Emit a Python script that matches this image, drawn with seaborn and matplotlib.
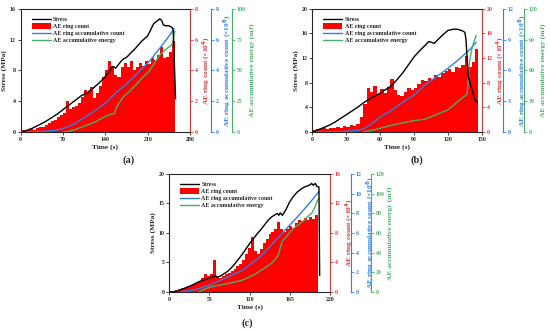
import numpy as np
import matplotlib
matplotlib.use("Agg")
import matplotlib.pyplot as plt
from matplotlib.lines import Line2D
from matplotlib.patches import Patch
import seaborn as sns

# ---------------- panel (a) ----------------
a_stress_t = [0, 5, 10, 20, 30, 40, 50, 60, 70, 80, 90, 95, 100, 105, 110, 115, 120, 130, 140, 145,
              150, 153, 157, 160, 165, 170, 175, 180, 190, 200, 210, 215, 220, 225, 230, 233, 236,
              240, 245, 250, 252, 254, 256]
a_stress = [0, 0.05, 0.2, 0.5, 0.9, 1.3, 1.8, 2.3, 2.9, 3.5, 4.1, 4.4, 4.7, 4.9, 5.1, 5.4, 5.7, 6.4,
            7.2, 7.7, 8.3, 8.5, 8.3, 8.6, 9.1, 9.5, 9.7, 10.1, 10.9, 11.8, 12.5, 13.3, 14.1, 14.4,
            14.7, 14.5, 13.9, 13.8, 13.8, 13.6, 13.3, 9.0, 4.3]
a_ring_step = 5
a_ring = [0.1, 0.15, 0.1, 0.2, 0.15, 0.25, 0.3, 0.35, 0.45, 0.55, 0.7, 0.8, 0.95, 1.1, 1.2, 2.0,
          1.5, 1.6, 1.7, 1.9, 2.3, 2.7, 2.6, 2.9, 2.2, 2.5, 3.0, 3.6, 4.0, 4.6, 4.3, 3.7, 3.6, 4.2,
          4.5, 4.2, 4.6, 4.0, 4.2, 4.5, 4.3, 4.6, 4.4, 4.8, 4.7, 5.0, 5.5, 4.8, 4.9, 5.2, 5.9]
a_count_t = [0, 20, 40, 60, 70, 80, 90, 100, 110, 120, 130, 140, 150, 160, 170, 180, 190, 200, 210,
             220, 230, 240, 250, 254]
a_count = [0, 0.01, 0.04, 0.12, 0.22, 0.37, 0.55, 0.8, 1.05, 1.3, 1.58, 1.87, 2.25, 2.65, 2.95, 3.3,
           3.7, 4.1, 4.47, 4.95, 5.45, 5.95, 6.5, 6.75]
a_energy_t = [70, 80, 90, 100, 110, 120, 125, 130, 140, 150, 155, 158, 162, 170, 180, 190, 200, 210,
              220, 230, 240, 245, 248, 250, 252, 254, 255]
a_energy = [0, 0.5, 2, 3.8, 5.5, 7.6, 8.5, 10, 12.5, 14.5, 15, 19.5, 23, 28.7, 33, 38, 43.5, 48,
            55, 62.6, 67, 69, 70, 71, 73, 80, 82]

# ---------------- panel (b) ----------------
b_stress_t = [0, 5, 10, 15, 20, 25, 30, 35, 40, 45, 50, 55, 60, 65, 70, 75, 80, 85, 90, 95, 100,
              103, 105, 108, 110, 115, 120, 125, 128, 132, 135, 136, 137, 138, 140, 142, 144, 146]
b_stress = [0, 0.35, 0.7, 1.1, 1.6, 2.2, 2.8, 3.4, 4.0, 4.7, 5.3, 5.8, 6.3, 6.9, 7.5, 8.5, 9.6, 10.9,
            12.2, 13.2, 14.1, 14.7, 14.6, 14.4, 14.8, 15.7, 16.5, 16.7, 16.7, 16.5, 16.2, 15.0,
            12.0, 9.0, 7.8, 6.5, 5.2, 4.8]
b_ring_step = 3
b_ring = [0.3, 0.5, 0.4, 0.6, 0.5, 0.7, 0.6, 0.8, 0.7, 0.9, 0.8, 1.1, 1.0, 1.3, 2.5, 4.5, 7.2, 6.5,
          7.4, 6.2, 7.0, 6.4, 7.3, 8.6, 6.8, 6.0, 5.8, 6.5, 7.2, 6.8, 7.2, 7.8, 8.4, 8.2, 8.8, 8.6,
          9.2, 9.0, 9.5, 9.9, 10.2, 9.8, 10.6, 10.4, 10.9, 12.4, 10.6, 11.4, 13.4]
b_count_t = [0, 20, 30, 40, 45, 50, 55, 60, 70, 80, 90, 100, 110, 120, 130, 140, 145]
b_count = [0, 0.02, 0.06, 0.15, 0.3, 0.6, 1.0, 1.45, 2.1, 2.9, 3.6, 4.6, 5.4, 6.2, 7.1, 8.1, 8.75]
b_energy_t = [45, 50, 55, 60, 65, 70, 75, 80, 90, 100, 110, 120, 125, 130, 135, 137, 138, 139, 141,
              143, 145]
b_energy = [0, 1, 2.2, 3.6, 5, 6.5, 7.8, 8.8, 11, 12.5, 17, 21.5, 26, 31, 35, 37, 50, 68, 80, 88, 94]

# ---------------- panel (c) ----------------
c_stress_t = [0, 5, 10, 15, 20, 25, 30, 35, 40, 45, 50, 55, 60, 63, 66, 70, 75, 80, 85, 90, 95, 100,
              105, 110, 115, 120, 125, 130, 135, 140, 145, 148, 150, 152, 155, 160, 165, 170, 175,
              180, 185, 190, 193, 195, 197, 200, 202, 205, 206]
c_stress = [0, 0.02, 0.1, 0.3, 0.6, 0.85, 1.1, 1.4, 1.7, 1.95, 2.15, 2.35, 2.6, 2.75, 2.55, 2.7,
            3.1, 3.5, 4.1, 4.8, 5.6, 6.4, 7.3, 8.2, 9.0, 9.8, 10.5, 11.3, 12.1, 12.7, 13.1, 13.3,
            13.0, 13.4, 13.0, 14.0, 15.3, 16.2, 16.9, 17.4, 17.8, 18.0, 18.2, 18.4, 18.1, 18.4,
            17.9, 17.8, 2.8]
c_ring_step = 4
c_ring = [0.1, 0.2, 0.3, 0.4, 0.5, 0.6, 0.8, 0.9, 1.1, 1.2, 1.5, 1.9, 2.5, 2.1, 2.4, 4.3, 2.2, 1.9,
          2.1, 2.4, 2.6, 2.9, 3.1, 3.5, 3.8, 4.3, 5.2, 6.0, 7.4, 5.6, 5.2, 5.8, 6.6, 7.2, 7.8, 8.2,
          8.6, 9.5, 8.6, 8.2, 8.5, 8.9, 8.7, 9.4, 9.7, 9.6, 10.0, 9.8, 10.1, 9.9, 10.4]
c_count_t = [0, 20, 30, 40, 55, 75, 100, 125, 150, 165, 180, 195, 205]
c_count = [0, 0.05, 0.15, 0.34, 0.68, 1.36, 2.2, 3.6, 5.6, 6.8, 8.0, 9.3, 10.2]
c_energy_t = [40, 50, 60, 75, 90, 100, 110, 120, 125, 130, 140, 145, 148, 150, 152, 155, 160, 170,
              180, 185, 190, 195, 200, 203, 205]
c_energy = [0, 3.4, 5.8, 7.8, 10.2, 12, 15.3, 19, 22, 24, 29, 33, 36, 39, 45, 52, 56, 64.6, 70, 73,
            77, 80, 87, 93, 95]

RED_BAR = "#ff0000"
RED = "#d9383a"
BLUE = "#2f7fe6"
GREEN = "#45b165"

sns.set_style("ticks")
plt.rcParams["font.family"] = ["Liberation Serif", "DejaVu Serif"]
plt.rcParams["font.weight"] = "bold"
plt.rcParams["axes.labelweight"] = "bold"

TICK_FS = 4.2
LABEL_FS = 5.3


def draw_panel(fig, rect, stress_t, stress, ring_step, ring, count_t, count, energy_t, energy,
               xmax, xticks, smax, sticks, rmax, rticks, cmax, cticks, emax, eticks,
               offs, letter, letter_xy):
    ax = fig.add_axes(rect)
    red = ax.twinx()
    blue = ax.twinx()
    green = ax.twinx()
    blue.spines["right"].set_position(("axes", offs[0]))
    green.spines["right"].set_position(("axes", offs[1]))

    # ring count bars (one bar per sampling interval)
    centers = np.arange(len(ring)) * ring_step + ring_step / 2
    sns.histplot(x=centers, weights=np.array(ring, dtype=float), binwidth=ring_step,
                 binrange=(0, len(ring) * ring_step), ax=red, color=RED_BAR,
                 alpha=1, linewidth=0)
    red.set_ylim(0, rmax)
    red.set_yticks(rticks)

    sns.lineplot(x=count_t, y=count, ax=blue, color=BLUE, lw=1.0, estimator=None)
    blue.set_ylim(0, cmax)
    blue.set_yticks(cticks)

    sns.lineplot(x=energy_t, y=energy, ax=green, color=GREEN, lw=1.0, estimator=None)
    green.set_ylim(0, emax)
    green.set_yticks(eticks)

    sns.lineplot(x=stress_t, y=stress, ax=ax, color="black", lw=1.0, estimator=None)
    ax.set_xlim(0, xmax)
    ax.set_xticks(xticks)
    ax.set_ylim(0, smax)
    ax.set_yticks(sticks)
    ax.set_zorder(5)
    ax.patch.set_visible(False)
    ax.spines["right"].set_visible(False)
    for s in ["top", "bottom", "left"]:
        ax.spines[s].set_linewidth(0.8)

    ax.set_xlabel("Time (s)", fontsize=LABEL_FS, labelpad=2)
    ax.set_ylabel("Stress (MPa)", fontsize=LABEL_FS, labelpad=2)
    ax.tick_params(labelsize=TICK_FS, length=2, width=0.6, pad=1.5, direction="out")

    for tw, col, lab in [(red, RED, "AE ring count (\u00d710$^4$)"),
                         (blue, BLUE, "AE ring accumulative count (\u00d710$^6$)"),
                         (green, GREEN, "AE accumulative energy (mJ)")]:
        for s in ["top", "bottom", "left"]:
            tw.spines[s].set_visible(False)
        tw.spines["right"].set_color(col)
        tw.spines["right"].set_linewidth(0.8)
        tw.tick_params(axis="y", colors=col, labelsize=TICK_FS, length=2, width=0.6, pad=1.5)
        tw.set_ylabel(lab, color=col, fontsize=LABEL_FS, labelpad=2)
        tw.set_xlabel("")

    handles = [Line2D([], [], color="black", lw=1.0),
               Patch(facecolor=RED_BAR, edgecolor="none"),
               Line2D([], [], color=BLUE, lw=1.0),
               Line2D([], [], color=GREEN, lw=1.0)]
    labels = ["Stress", "AE ring count", "AE ring accumulative count", "AE accumulative energy"]
    ax.legend(handles, labels, loc="upper left", bbox_to_anchor=(0.05, 0.96), frameon=False,
              prop={"size": 4.3, "weight": "bold"}, handlelength=3.2, handleheight=1.2,
              labelspacing=0.15, handletextpad=0.4, borderaxespad=0)

    fig.text(letter_xy[0], letter_xy[1], letter, fontsize=7.5, ha="center", va="center")


fig = plt.figure(figsize=(5.5, 3.29), dpi=100)

draw_panel(fig, [0.0376, 0.599, 0.308, 0.374], a_stress_t, a_stress, a_ring_step, a_ring,
           a_count_t, a_count, a_energy_t, a_energy,
           280, [0, 70, 140, 210, 280], 16, [0, 4, 8, 12, 16], 8, [0, 2, 4, 6, 8],
           8, [0, 2, 4, 6, 8], 100, [0, 25, 50, 75, 100], (1.124, 1.248), "(a)", (0.233, 0.512))

draw_panel(fig, [0.568, 0.599, 0.308, 0.374], b_stress_t, b_stress, b_ring_step, b_ring,
           b_count_t, b_count, b_energy_t, b_energy,
           150, [0, 30, 60, 90, 120, 150], 20, [0, 4, 8, 12, 16, 20], 20, [0, 4, 8, 12, 16, 20],
           12, [0, 3, 6, 9, 12], 120, [0, 30, 60, 90, 120], (1.126, 1.25), "(b)", (0.758, 0.512))

draw_panel(fig, [0.3078, 0.1125, 0.292, 0.3587], c_stress_t, c_stress, c_ring_step, c_ring,
           c_count_t, c_count, c_energy_t, c_energy,
           220, [0, 55, 110, 165, 220], 20, [0, 5, 10, 15, 20], 16, [0, 4, 8, 12, 16],
           12, [0, 2, 4, 6, 8, 10, 12], 120, [0, 20, 40, 60, 80, 100, 120], (1.131, 1.255),
           "(c)", (0.45, 0.018))

fig.savefig("out.png", dpi=100)
